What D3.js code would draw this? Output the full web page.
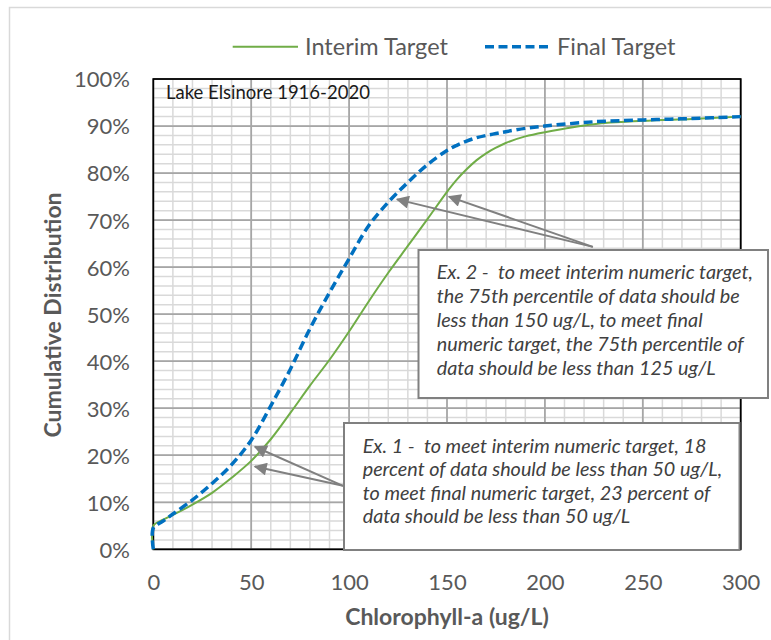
<!DOCTYPE html>
<html>
<head>
<meta charset="utf-8">
<script src="https://cdn.jsdelivr.net/npm/d3@7"></script>
<style>
  html, body { margin: 0; padding: 0; background: #fff; }
  svg { display: block; }
  text { font-family: Lato, "Liberation Sans", sans-serif; white-space: pre; }
</style>
</head>
<body>
<svg id="chart" width="771" height="640"></svg>
<script>
// ---- data ----
const chlorophyll   = [0, 0, 5, 10, 20, 30, 40, 50, 60, 70, 80, 90, 100, 110, 120, 130, 140, 150, 155, 160, 165, 170, 175, 180, 190, 200, 225, 250, 275, 300];
const interimTarget = [0, 5, 6.3, 7.3, 9.5, 12, 15.2, 18.8, 23.4, 29, 34.8, 40.3, 46.3, 52.7, 58.8, 64.5, 70.2, 76, 78.6, 80.8, 82.7, 84.2, 85.4, 86.4, 87.8, 88.7, 90.4, 91.1, 91.5, 92];
const finalTarget   = [0, 4.5, 6, 7.5, 10.5, 14, 18, 23.2, 30.5, 38.3, 46.9, 54.6, 61.8, 68.8, 73.8, 78, 81.8, 84.8, 85.9, 86.8, 87.5, 88, 88.4, 88.8, 89.5, 90, 90.9, 91.3, 91.6, 92];
const seriesNames = ["Interim Target", "Final Target"];
const xTicks = [0, 50, 100, 150, 200, 250, 300];
const yTicks = [0, 10, 20, 30, 40, 50, 60, 70, 80, 90, 100];
const xMinor = d3.range(0, 301, 10);
const yMinor = d3.range(0, 101, 2);
const siteLabel = "Lake Elsinore 1916-2020";
const xTitle = "Chlorophyll-a (ug/L)";
const yTitle = "Cumulative Distribution";
const ex2Lines = [
  "Ex. 2 -  to meet interim numeric target,",
  "the 75th percentile of data should be",
  "less than 150 ug/L, to meet final",
  "numeric target, the 75th percentile of",
  "data should be less than 125 ug/L"
];
const ex1Lines = [
  "Ex. 1 -  to meet interim numeric target, 18",
  "percent of data should be less than 50 ug/L,",
  "to meet final numeric target, 23 percent of",
  "data should be less than 50 ug/L"
];
// arrow anchors in data units [from, to]
const ex2Arrows = [[[224.5, 64.3], [124.5, 74.4]], [[224.5, 64.3], [151, 75]]];
const ex1Arrows = [[[96.9, 13.5], [51.9, 21.8]], [[96.9, 13.5], [51.9, 17.6]]];

// ---- layout ----
const svg = d3.select("#chart");
const plot = { left: 153.3, right: 740.7, top: 79, bottom: 549.3 };
const x = d3.scaleLinear().domain([0, 300]).range([plot.left, plot.right]);
const y = d3.scaleLinear().domain([0, 100]).range([plot.bottom, plot.top]);

const GREEN = "#70ad47", BLUE = "#0070c0", TXT = "#595959";

// outer chart frame
svg.append("rect").attr("x", 9.5).attr("y", 7.5).attr("width", 800).attr("height", 700)
  .attr("fill", "none").attr("stroke", "#d9d9d9").attr("stroke-width", 1.5);

// defs
const defs = svg.append("defs");
defs.append("marker").attr("id", "arrow").attr("viewBox", "0 0 10 10")
  .attr("refX", 9).attr("refY", 5).attr("markerUnits", "userSpaceOnUse")
  .attr("markerWidth", 14).attr("markerHeight", 13).attr("orient", "auto")
  .append("path").attr("d", "M0,0 L10,5 L0,10 Z").attr("fill", "#808080");

// grid
const grid = svg.append("g");
grid.selectAll(".vmin").data(xMinor).join("line")
  .attr("x1", d => x(d)).attr("x2", d => x(d)).attr("y1", plot.top).attr("y2", plot.bottom)
  .attr("stroke", "#d9d9d9").attr("stroke-width", 1.5);
grid.selectAll(".hmin").data(yMinor).join("line")
  .attr("y1", d => y(d)).attr("y2", d => y(d)).attr("x1", plot.left).attr("x2", plot.right)
  .attr("stroke", "#d9d9d9").attr("stroke-width", 1.5);
grid.selectAll(".vmaj").data(xTicks).join("line")
  .attr("x1", d => x(d)).attr("x2", d => x(d)).attr("y1", plot.top).attr("y2", plot.bottom)
  .attr("stroke", "#a6a6a6").attr("stroke-width", 1.75);
grid.selectAll(".hmaj").data(yTicks).join("line")
  .attr("y1", d => y(d)).attr("y2", d => y(d)).attr("x1", plot.left).attr("x2", plot.right)
  .attr("stroke", "#a6a6a6").attr("stroke-width", 1.75);

// plot border
svg.append("rect").attr("x", plot.left).attr("y", plot.top)
  .attr("width", plot.right - plot.left).attr("height", plot.bottom - plot.top)
  .attr("fill", "none").attr("stroke", "#000").attr("stroke-width", 1.75);

// axes (tick labels via d3 axes)
const xAxis = svg.append("g").attr("transform", `translate(0,${plot.bottom})`)
  .call(d3.axisBottom(x).tickValues(xTicks).tickSize(0).tickPadding(0));
xAxis.select(".domain").remove();
xAxis.selectAll("text").attr("y", 41).attr("dy", null)
  .attr("font-size", 22).attr("fill", TXT).attr("font-family", "Lato");

const yAxis = svg.append("g").attr("transform", `translate(130,0)`)
  .call(d3.axisLeft(y).tickValues(yTicks).tickSize(0).tickPadding(0).tickFormat(d => d + "%"));
yAxis.select(".domain").remove();
yAxis.selectAll("text").attr("x", 0).attr("dy", "0.36em")
  .attr("font-size", 22).attr("fill", TXT).attr("font-family", "Lato");

// titles
svg.append("text").attr("x", 447).attr("y", 625).attr("text-anchor", "middle")
  .attr("font-size", 23).attr("font-weight", "bold").attr("fill", TXT).text(xTitle);
svg.append("text").attr("transform", "translate(61,315) rotate(-90)").attr("text-anchor", "middle")
  .attr("font-size", 23).attr("font-weight", "bold").attr("fill", TXT).text(yTitle);

svg.append("text").attr("x", 166).attr("y", 99.3).attr("font-size", 18.5)
  .attr("fill", "#1a1a1a").text(siteLabel);

// lines
const line = d3.line().x(d => x(d[0])).y(d => y(d[1])).curve(d3.curveCatmullRom.alpha(0.5));
svg.append("path").datum(chlorophyll.map((c, i) => [c, interimTarget[i]]))
  .attr("d", line).attr("fill", "none").attr("stroke", GREEN).attr("stroke-width", 2);
svg.append("path").datum(chlorophyll.map((c, i) => [c, finalTarget[i]]))
  .attr("d", line).attr("fill", "none").attr("stroke", BLUE).attr("stroke-width", 3.5)
  .attr("stroke-dasharray", "9,4.5");

// arrows
const arrows = svg.append("g");
ex2Arrows.concat(ex1Arrows).forEach(([a, b]) => {
  arrows.append("line").attr("x1", x(a[0])).attr("y1", y(a[1])).attr("x2", x(b[0])).attr("y2", y(b[1]))
    .attr("stroke", "#808080").attr("stroke-width", 2).attr("marker-end", "url(#arrow)");
});

// annotation boxes
function box(x0, y0, x1, y1, lines, tx, ty0, lh) {
  svg.append("rect").attr("x", x0).attr("y", y0).attr("width", x1 - x0).attr("height", y1 - y0)
    .attr("fill", "#fff").attr("stroke", "#808080").attr("stroke-width", 2);
  const t = svg.append("text").attr("font-size", 19.8).attr("font-style", "italic").attr("fill", "#404040");
  lines.forEach((l, i) => t.append("tspan").attr("x", tx).attr("y", ty0 + i * lh).text(l));
}
box(418.5, 250, 768, 398, ex2Lines, 436.7, 279.3, 24);
box(344, 423, 739.5, 550, ex1Lines, 362.7, 452.7, 23.5);

// legend
const lg = svg.append("g");
lg.append("line").attr("x1", 232.7).attr("x2", 298).attr("y1", 46.7).attr("y2", 46.7)
  .attr("stroke", GREEN).attr("stroke-width", 2);
lg.append("text").attr("x", 305).attr("y", 54.5).attr("font-size", 23.5).attr("fill", TXT).text(seriesNames[0]);
lg.append("line").attr("x1", 485).attr("x2", 552).attr("y1", 46.7).attr("y2", 46.7)
  .attr("stroke", BLUE).attr("stroke-width", 3.5).attr("stroke-dasharray", "9,4.5");
lg.append("text").attr("x", 557).attr("y", 54.5).attr("font-size", 23.5).attr("fill", TXT).text(seriesNames[1]);
</script>
</body>
</html>
